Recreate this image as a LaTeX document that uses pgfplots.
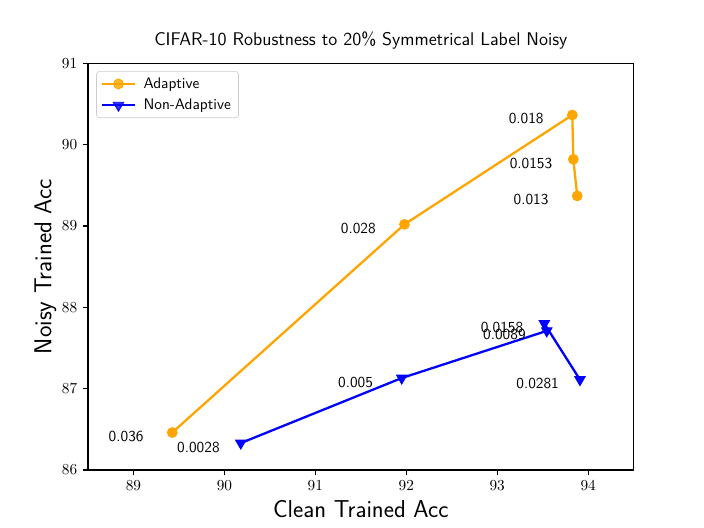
\documentclass[border=0pt]{standalone}
\usepackage{pgfplots}
\pgfplotsset{compat=1.18}
\usepackage{fontspec}
\definecolor{mplorange}{HTML}{FFA500}
\definecolor{mplblue}{HTML}{0000FF}
\pgfplotstableread{
x y label
89.427 86.46 0.036
91.98 89.02 0.028
93.826 90.365 0.018
93.837 89.82 0.0153
93.88 89.37 0.013
}\adaptive
\pgfplotstableread{
x y label
90.18 86.33 0.0028
91.95 87.13 0.005
93.545 87.71 0.0089
93.518 87.80 0.0158
93.91 87.11 0.0281
}\nonadaptive
\begin{document}
\begin{tikzpicture}
\begin{axis}[
  scale only axis,
  width=357.12pt, height=266.11pt,
  xmin=88.5, xmax=94.5, ymin=86, ymax=91,
  xtick={89,90,91,92,93,94}, ytick={86,87,88,89,90,91},
  tick align=outside, tick pos=left,
  major tick length=3.5pt,
  every tick/.style={black, line width=0.8pt},
  axis line style={line width=0.8pt},
  ticklabel style={font=\fontsize{10}{12}\selectfont},
  title={\sffamily CIFAR-10 Robustness to 20\% Symmetrical Label Noisy},
  title style={at={(axis description cs:0.5,1.0225)}, anchor=base, inner sep=0pt, font=\fontsize{12}{14}\selectfont},
  xlabel={\sffamily Clean Trained Acc},
  xlabel style={at={(axis description cs:0.5,-0.1172)}, anchor=base, inner sep=0pt, font=\fontsize{16}{19}\selectfont},
  ylabel={\sffamily Noisy Trained Acc},
  ylabel style={at={(axis description cs:-0.0672,0.5)}, anchor=base, inner sep=0pt, font=\fontsize{16}{19}\selectfont},
  legend style={at={(axis description cs:0.015,0.981)}, anchor=north west,
    draw=black!20, rounded corners=2pt, fill=white, fill opacity=0.8, text opacity=1,
    font=\sffamily\fontsize{10}{12}\selectfont, inner xsep=3pt, inner ysep=2pt, row sep=1.5pt,
    /tikz/every odd column/.append style={column sep=3pt}},
  legend cell align=left,
  legend image code/.code={\draw[mark repeat=2,mark phase=2] plot coordinates {(0pt,0pt) (10.65pt,0pt) (21.3pt,0pt)};},
  every node near coord/.style={anchor=west, xshift=-41.9pt, yshift=-2.6pt, font=\sffamily\fontsize{10}{12}\selectfont, text=black, inner sep=0pt},
]
\addplot[color=mplorange, line width=1.5pt, line join=round, mark=*, mark size=3.2pt, mark options={solid, fill=mplorange, draw=mplorange, line width=0.6pt},
  nodes near coords, point meta=explicit symbolic]
  table[x=x, y=y, meta=label] {\adaptive};
\addlegendentry{Adaptive}
\addplot[color=mplblue, line width=1.5pt, line join=round, mark=triangle*, mark size=3.9pt, mark options={solid, rotate=180, fill=mplblue, draw=mplblue, line width=0.6pt, line join=miter},
  nodes near coords, point meta=explicit symbolic]
  table[x=x, y=y, meta=label] {\nonadaptive};
\addlegendentry{Non-Adaptive}
\coordinate (bl) at (rel axis cs:-0.16129,-0.142857);
\coordinate (tr) at (rel axis cs:1.12903,1.155844);
\end{axis}
\pgfresetboundingbox
\path[use as bounding box] (bl) rectangle (tr);
\end{tikzpicture}
\end{document}
